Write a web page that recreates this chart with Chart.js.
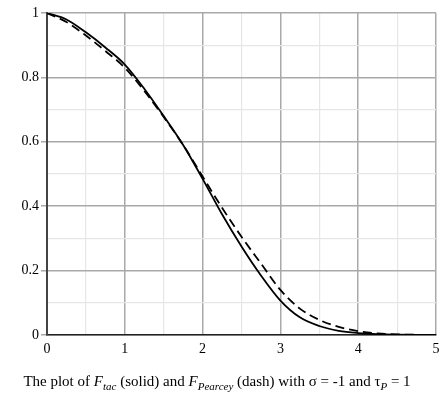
<!DOCTYPE html>
<html>
<head>
<meta charset="utf-8">
<script src="https://cdn.jsdelivr.net/npm/chart.js@4/dist/chart.umd.min.js"></script>
<style>
  html, body { margin: 0; padding: 0; background: #fff; }
  #wrap { position: relative; width: 447px; height: 398px; }
  #caption {
    position: absolute; left: 0; width: 434px; top: 374px;
    text-align: center; font-family: 'Liberation Serif', 'DejaVu Serif', serif;
    font-size: 15px; line-height: 15px; color: #000; white-space: nowrap;
  }
  #caption sub { font-size: 11px; line-height: 0; vertical-align: -4px; }
</style>
</head>
<body>
<div id="wrap">
  <canvas id="c" width="447" height="398"></canvas>
  <div id="caption">The plot of <i>F</i><sub><i>tac</i></sub> (solid) and <i>F</i><sub><i>Pearcey</i></sub> (dash) with σ = -1 and τ<sub><i>P</i></sub> = 1</div>
</div>
<script>
// Data
const xValues      = [0, 0.25, 0.5, 0.75, 1, 1.25, 1.5, 1.75, 2, 2.25, 2.5, 2.75, 3, 3.25, 3.5, 3.75, 4, 4.25, 4.5, 4.75, 5];
const fTac         = [1, 0.98, 0.94, 0.893, 0.84, 0.765, 0.68, 0.59, 0.485, 0.375, 0.275, 0.185, 0.107, 0.055, 0.028, 0.013, 0.006, 0.0025, 0.001, 0.0003, 0];
const fPearcey     = [1, 0.972, 0.93, 0.882, 0.83, 0.758, 0.677, 0.59, 0.492, 0.395, 0.305, 0.222, 0.14, 0.082, 0.047, 0.025, 0.012, 0.005, 0.002, 0.0007, 0];
const xTickLabels  = ['0', '1', '2', '3', '4', '5'];
const yTickLabels  = ['0', '0.2', '0.4', '0.6', '0.8', '1'];

const toPoints = ys => xValues.map((x, i) => ({ x: x, y: ys[i] }));
const near = (a, b) => Math.abs(a - b) < 1e-6;
const xMajor = v => near(v, Math.round(v));
const yMajor = v => near(v * 5, Math.round(v * 5));
const MAJOR = '#a9a9a9', MINOR = '#e6e6e6';
const font = { family: "'Liberation Serif', 'DejaVu Serif', serif", size: 14 };

new Chart(document.getElementById('c'), {
  type: 'line',
  data: {
    datasets: [
      { label: 'F_tac', data: toPoints(fTac), borderColor: '#000', borderWidth: 1.8,
        pointRadius: 0, cubicInterpolationMode: 'monotone', fill: false },
      { label: 'F_Pearcey', data: toPoints(fPearcey), borderColor: '#000', borderWidth: 1.8,
        borderDash: [9, 5], pointRadius: 0, cubicInterpolationMode: 'monotone', fill: false }
    ]
  },
  options: {
    responsive: false,
    animation: false,
    events: [],
    layout: { padding: { left: 0, right: 11, top: 13, bottom: 0 } },
    plugins: { legend: { display: false }, tooltip: { enabled: false } },
    scales: {
      x: {
        type: 'linear', min: 0, max: 5,
        afterFit: s => { s.height = 63; },
        ticks: {
          stepSize: 0.5, color: '#000', font: font, padding: 6, maxRotation: 0, autoSkip: false,
          callback: v => { if (!xMajor(v)) return ''; const i = Math.round(v); return xTickLabels[i]; }
        },
        grid: {
          color: c => (c.tick && xMajor(c.tick.value)) ? MAJOR : MINOR,
          lineWidth: c => (c.tick && xMajor(c.tick.value)) ? 1.5 : 1.2,
          drawTicks: false
        },
        border: { color: '#222', width: 1.6 }
      },
      y: {
        type: 'linear', min: 0, max: 1,
        afterFit: s => { s.width = 47; },
        ticks: {
          stepSize: 0.1, color: '#000', font: font, padding: 2, autoSkip: false,
          callback: v => { if (!yMajor(v)) return ''; return yTickLabels[Math.round(v * 5)]; }
        },
        grid: {
          color: c => (c.tick && yMajor(c.tick.value)) ? MAJOR : MINOR,
          lineWidth: c => (c.tick && yMajor(c.tick.value)) ? 1.5 : 1.2,
          tickLength: 6,
          tickColor: c => (c.tick && yMajor(c.tick.value)) ? MAJOR : '#fff'
        },
        border: { color: '#444', width: 2 }
      }
    }
  }
});
</script>
</body>
</html>
